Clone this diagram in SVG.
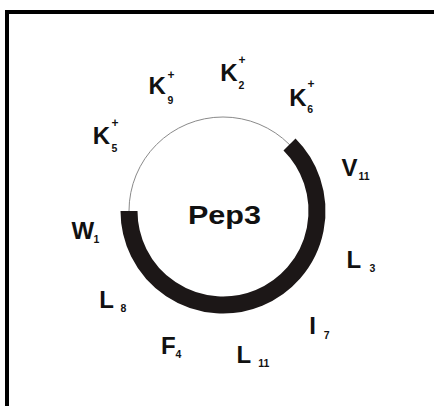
<svg xmlns="http://www.w3.org/2000/svg" width="434" height="406" viewBox="0 0 434 406">
  <style>
    .res { font-family: "Liberation Sans", Arial, sans-serif; font-weight: bold; fill: #111; }
    .big { font-size: 24px; }
    .sub { font-size: 10.5px; }
    .sup { font-size: 12px; }
    .title { font-family: "Liberation Sans", Arial, sans-serif; font-weight: bold; font-size: 26px; fill: #111; }
  </style>
  <rect x="0" y="0" width="434" height="406" fill="#fff"/>
  <!-- frame, open to the right and bottom -->
  <rect x="7" y="12" width="440" height="410" fill="none" stroke="#000" stroke-width="4"/>

  <g id="connectors">
    <!-- helical wheel outline -->
    <circle cx="223" cy="211" r="94" fill="none" stroke="#8a8a8a" stroke-width="1"/>
    <!-- hydrophobic face -->
    <path d="M129,211 A94,94 0 1 0 289.5,144.5" fill="none" stroke="#1c1717" stroke-width="17" stroke-linecap="butt"/>
  </g>

  <g id="title"><text class="title" x="188" y="224.3" textLength="73" lengthAdjust="spacingAndGlyphs">Pep3</text></g>

  <g id="K9" class="res"><text class="big" x="148.5" y="94">K</text><text class="sub" x="167.5" y="103.5">9</text><text class="sup" x="167.5" y="79">+</text></g>
  <g id="K2" class="res"><text class="big" x="220.2" y="80.5">K</text><text class="sub" x="238.5" y="89">2</text><text class="sup" x="238.5" y="64">+</text></g>
  <g id="K6" class="res"><text class="big" x="289.2" y="105.7">K</text><text class="sub" x="307.2" y="112.7">6</text><text class="sup" x="307.5" y="88">+</text></g>
  <g id="K5" class="res"><text class="big" x="92.8" y="143.5">K</text><text class="sub" x="111.5" y="152">5</text><text class="sup" x="111.5" y="127">+</text></g>
  <g id="V11" class="res"><text class="big" x="341.5" y="175.7">V</text><text class="sub" x="358.5" y="180">11</text></g>
  <g id="L3" class="res"><text class="big" x="346.6" y="267.7">L</text><text class="sub" x="369.5" y="271.7">3</text></g>
  <g id="I7" class="res"><text class="big" x="309.3" y="334.3">I</text><text class="sub" x="323.8" y="339">7</text></g>
  <g id="L11" class="res"><text class="big" x="236.6" y="363.3">L</text><text class="sub" x="258.2" y="366.7">11</text></g>
  <g id="F4" class="res"><text class="big" x="161" y="354">F</text><text class="sub" x="175.5" y="357.7">4</text></g>
  <g id="L8" class="res"><text class="big" x="99.3" y="308.3">L</text><text class="sub" x="120.5" y="312.3">8</text></g>
  <g id="W1" class="res"><text class="big" x="71.5" y="239">W</text><text class="sub" x="93.5" y="242.7">1</text></g>
</svg>
